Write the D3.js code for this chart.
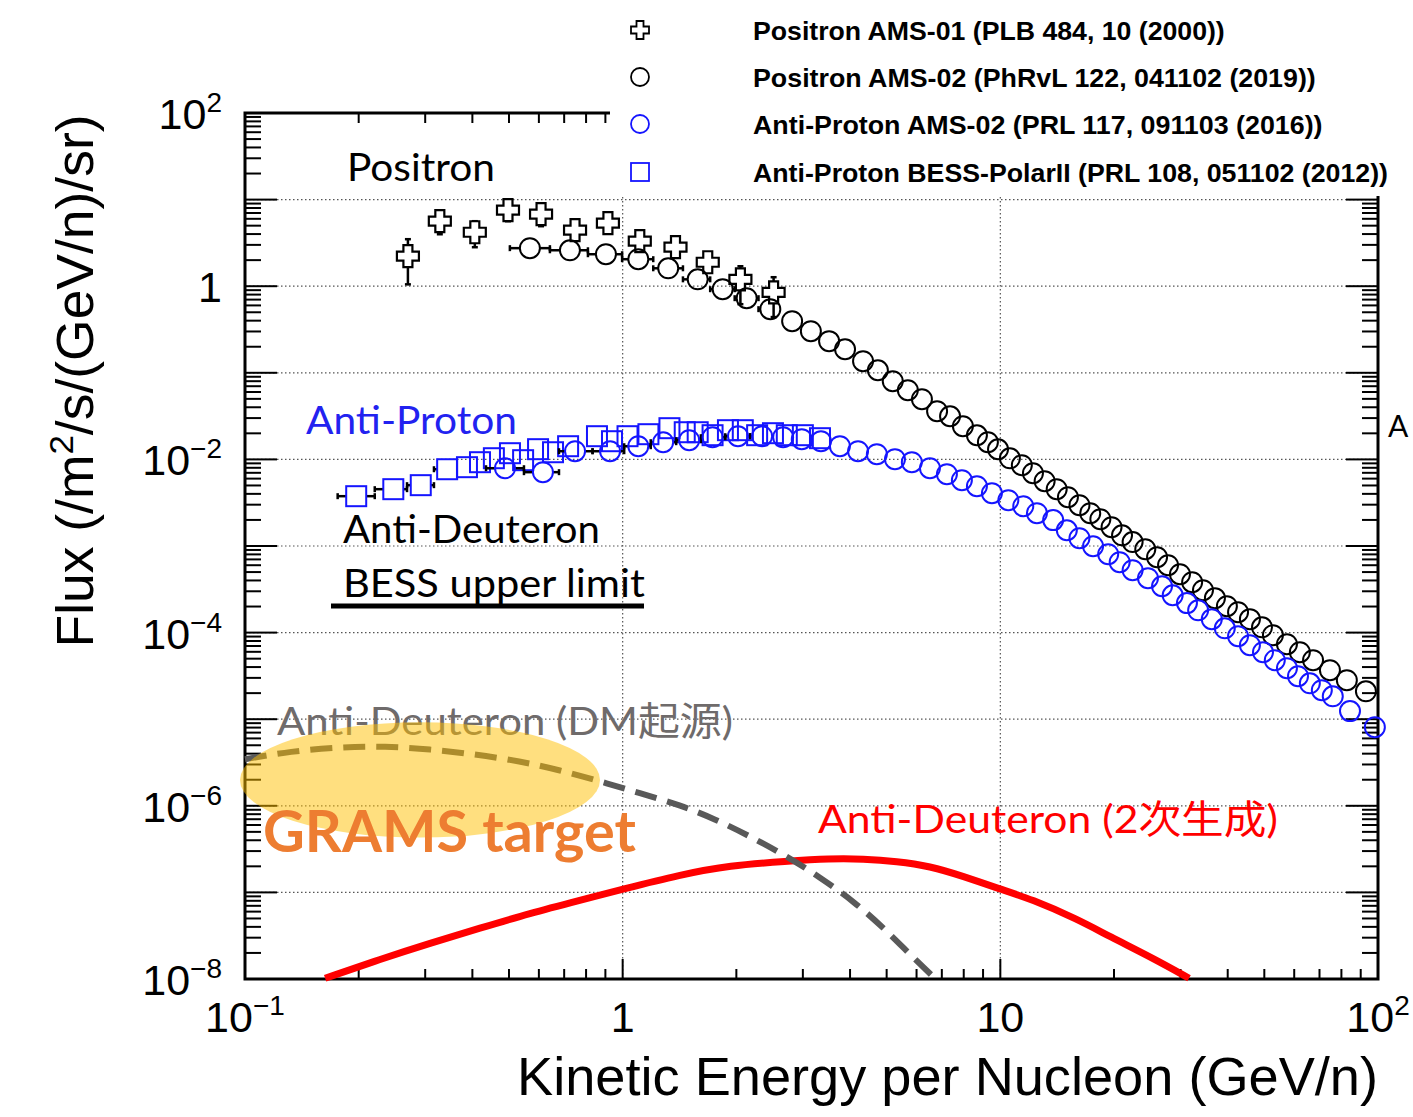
<!DOCTYPE html>
<html>
<head>
<meta charset="utf-8">
<script src="https://cdn.jsdelivr.net/npm/d3@7"></script>
<style>
  body { margin: 0; background: #fff; }
  svg { display: block; }
</style>
</head>
<body>
<script>
// ---- data (E in GeV/n, flux in /m2/s/(GeV/n)/sr) ----
const positronAms01E = [0.270, 0.328, 0.406, 0.497, 0.608, 0.748, 0.914, 1.11, 1.38, 1.68, 2.05, 2.51];
const positronAms01F = [2.22, 5.63, 4.20, 7.55, 6.78, 4.43, 5.34, 3.31, 2.82, 1.89, 1.20, 0.85];
const positronAms01Lo = [1.05, 3.98, 2.82, 5.63, 4.93, 3.49, 4.20, 2.60, 2.22, 1.49, 0.62, 0.44];
const positronAms01Hi = [3.49, 7.35, 5.63, 9.33, 8.17, 5.63, 6.78, 4.20, 3.58, 2.41, 1.70, 1.27];

const positronAms02E = [0.568, 0.725, 0.903, 1.10, 1.32, 1.58, 1.84, 2.13, 2.46, 2.81, 3.15, 3.52, 3.88,
  4.33, 4.74, 5.19, 5.69, 6.20, 6.80, 7.36, 7.96, 8.67, 9.27, 9.86, 10.6, 11.4, 12.2, 13.1, 14.1, 15.1,
  16.2, 17.3, 18.4, 19.7, 21.0, 22.4, 24.2, 26.0, 27.8, 29.9, 32.2, 34.4, 37.0, 39.8, 42.6, 45.8, 49.3,
  52.7, 57.4, 62.1, 67.3, 74.6, 82.7, 92.9];
const positronAms02F = [2.75, 2.60, 2.34, 2.05, 1.61, 1.20, 0.923, 0.727, 0.543, 0.394, 0.302, 0.232, 0.187,
  0.136, 0.107, 0.080, 0.063, 0.0496, 0.036, 0.0315, 0.0242, 0.019, 0.0158, 0.0131, 0.0103, 0.00857,
  0.00693, 0.0056, 0.00453, 0.00366, 0.00296, 0.00239, 0.00204, 0.00165, 0.00133, 0.00111, 9.18e-4,
  7.43e-4, 6.0e-4, 4.72e-4, 3.82e-4, 3.09e-4, 2.5e-4, 2.02e-4, 1.72e-4, 1.43e-4, 1.15e-4, 9.33e-5,
  7.34e-5, 5.94e-5, 4.8e-5, 3.68e-5, 2.82e-5, 2.1e-5];

const pbarAms02E = [0.488, 0.615, 0.748, 0.926, 1.10, 1.28, 1.50, 1.73, 2.02, 2.34, 2.66, 2.98, 3.35,
  3.76, 4.20, 4.71, 5.26, 5.83, 6.51, 7.22, 7.91, 8.67, 9.50, 10.5, 11.5, 12.5, 13.8, 15.0, 16.2, 17.6,
  19.3, 20.7, 22.4, 24.6, 26.8, 28.6, 31.2, 33.4, 36.3, 39.3, 42.6, 45.8, 49.6, 53.3, 57.4, 61.4, 66.0,
  71.0, 75.9, 84.3, 98.1];
const pbarAms02F = [7.91e-3, 7.12e-3, 1.243e-2, 1.243e-2, 1.42e-2, 1.58e-2, 1.666e-2, 1.805e-2, 1.853e-2,
  1.853e-2, 1.805e-2, 1.711e-2, 1.622e-2, 1.42e-2, 1.243e-2, 1.148e-2, 1.005e-2, 9.28e-3, 7.91e-3,
  6.75e-3, 5.75e-3, 4.9e-3, 4.07e-3, 3.38e-3, 2.88e-3, 2.39e-3, 1.99e-3, 1.52e-3, 1.23e-3, 9.95e-4,
  8.04e-4, 6.5e-4, 5.26e-4, 4.25e-4, 3.43e-4, 2.7e-4, 2.19e-4, 1.81e-4, 1.43e-4, 1.12e-4, 9.09e-5,
  7.15e-5, 5.94e-5, 4.8e-5, 3.88e-5, 3.14e-5, 2.6e-5, 2.16e-5, 1.84e-5, 1.24e-5, 8.08e-6];

const pbarBessE = [0.197, 0.247, 0.292, 0.343, 0.387, 0.419, 0.456, 0.503, 0.545, 0.597, 0.654, 0.717,
  0.855, 0.937, 1.03, 1.17, 1.33, 1.46, 1.58, 1.73, 1.90, 2.08, 2.27, 2.50, 2.72, 3.00, 3.33];
const pbarBessF = [3.76e-3, 4.53e-3, 5.04e-3, 7.7e-3, 8.13e-3, 9.28e-3, 1.032e-2, 1.179e-2, 9.79e-3,
  1.312e-2, 1.21e-2, 1.42e-2, 1.853e-2, 1.622e-2, 1.853e-2, 1.954e-2, 2.293e-2, 2.06e-2, 2.06e-2,
  1.903e-2, 2.174e-2, 2.174e-2, 1.903e-2, 2.007e-2, 1.903e-2, 1.903e-2, 1.757e-2];

const dbarDmE = [0.1, 0.132, 0.179, 0.235, 0.309, 0.406, 0.535, 0.682, 0.871, 1.11, 1.42, 1.76, 2.17,
  2.69, 3.33, 4.12, 4.95, 5.83, 6.71];
const dbarDmF = [3.45e-6, 4.27e-6, 4.75e-6, 4.88e-6, 4.5e-6, 3.94e-6, 3.27e-6, 2.58e-6, 1.92e-6, 1.4e-6,
  1.02e-6, 7.0e-7, 4.46e-7, 2.69e-7, 1.5e-7, 7.7e-8, 3.76e-8, 1.83e-8, 1.02e-8];

const dbarSecE = [0.163, 0.228, 0.309, 0.419, 0.568, 0.771, 1.0, 1.42, 1.92, 2.72, 3.54, 4.33, 5.32,
  6.51, 7.96, 9.98, 12.1, 16.0, 19.4, 25.7, 31.6];
const dbarSecF = [1.02e-8, 1.69e-8, 2.59e-8, 3.86e-8, 5.75e-8, 8.13e-8, 1.09e-7, 1.6e-7, 2.05e-7,
  2.29e-7, 2.46e-7, 2.44e-7, 2.29e-7, 2.01e-7, 1.54e-7, 1.09e-7, 8.35e-8, 4.9e-8, 3.12e-8, 1.69e-8, 1.02e-8];

// GRAMS target region (energy range, flux range)
const gramsTargetE = [0.097, 0.871];
const gramsTargetF = [4.3e-7, 9.2e-6];

// tick labels
const xTickValues = [0.1, 1, 10, 100];
const xTickBase = ["10", "1", "10", "10"];
const xTickExp = ["\u22121", "", "", "2"];
const yTickValues = [1e2, 1, 1e-2, 1e-4, 1e-6, 1e-8];
const yTickBase = ["10", "1", "10", "10", "10", "10"];
const yTickExp = ["2", "", "\u22122", "\u22124", "\u22126", "\u22128"];

const legendLabels = [
  "Positron AMS-01 (PLB 484, 10 (2000))",
  "Positron AMS-02 (PhRvL 122, 041102 (2019))",
  "Anti-Proton AMS-02 (PRL 117, 091103 (2016))",
  "Anti-Proton BESS-PolarII (PRL 108, 051102 (2012))"
];

// ---- layout ----
const W = 1413, H = 1117;
const plotL = 245, plotR = 1378, plotT = 113, plotB = 979;
const axisFont = "'Liberation Sans', Arial, Helvetica, sans-serif";
const annFont = "Lato, 'Noto Sans CJK JP', sans-serif";
const blue = "#1515ff";
const mr = 10; // marker radius

const svg = d3.select("body").append("svg").attr("width", W).attr("height", H);

const x = d3.scaleLog().domain([0.1, 100]).range([plotL, plotR]);
const y = d3.scaleLog().domain([1e-8, 1e2]).range([plotB, plotT]);

const isDecade = v => Math.abs(Math.log10(v) - Math.round(Math.log10(v))) < 1e-9;

// tick positions, 1..9 per decade
const xTicks = [];
for (let e = -1; e < 2; e++) for (let m = 1; m < 10; m++) xTicks.push(m * Math.pow(10, e));
xTicks.push(100);
const yTicks = [];
for (let e = -8; e < 2; e++) for (let m = 1; m < 10; m++) yTicks.push(m * Math.pow(10, e));
yTicks.push(100);

// grid
const grid = svg.append("g").attr("stroke", "#555").attr("stroke-width", 1.2)
  .attr("stroke-dasharray", "1.5,2.5");
yTicks.filter(v => isDecade(v) && v > 1e-8 && v < 1e2).forEach(v => {
  grid.append("line").attr("x1", plotL).attr("x2", plotR).attr("y1", y(v)).attr("y2", y(v));
});
[1, 10].forEach(v => {
  grid.append("line").attr("x1", x(v)).attr("x2", x(v)).attr("y1", plotT).attr("y2", plotB);
});

// frame and ticks
const axes = svg.append("g").attr("stroke", "#000").attr("fill", "none");
axes.append("rect").attr("x", plotL).attr("y", plotT).attr("width", plotR - plotL).attr("height", plotB - plotT)
  .attr("stroke-width", 3);
yTicks.forEach(v => {
  const len = isDecade(v) ? 32 : 16;
  axes.append("line").attr("x1", plotL).attr("x2", plotL + len).attr("y1", y(v)).attr("y2", y(v)).attr("stroke-width", 2);
  axes.append("line").attr("x1", plotR).attr("x2", plotR - len).attr("y1", y(v)).attr("y2", y(v)).attr("stroke-width", 2);
});
xTicks.forEach(v => {
  const len = isDecade(v) ? 20 : 10;
  axes.append("line").attr("x1", x(v)).attr("x2", x(v)).attr("y1", plotB).attr("y2", plotB - len).attr("stroke-width", 2);
  axes.append("line").attr("x1", x(v)).attr("x2", x(v)).attr("y1", plotT).attr("y2", plotT + len).attr("stroke-width", 2);
});

// curves
const curve = d3.line().x(d => x(d[0])).y(d => y(d[1])).curve(d3.curveBasis);
svg.append("path")
  .attr("d", curve(dbarSecE.map((e, i) => [e, dbarSecF[i]])))
  .attr("fill", "none").attr("stroke", "#ff0000").attr("stroke-width", 7);
svg.append("path")
  .attr("d", curve(dbarDmE.map((e, i) => [e, dbarDmF[i]])))
  .attr("fill", "none").attr("stroke", "#595959").attr("stroke-width", 6)
  .attr("stroke-dasharray", "22,11");

// horizontal error bars out to the bin edges, drawn outside the marker
function xErrors(E, F, half, n) {
  const g = svg.append("g").attr("stroke", "#000").attr("stroke-width", 2.5);
  E.slice(0, n).forEach((e, i) => {
    const lo = i > 0 ? Math.sqrt(E[i - 1] * e) : e / Math.sqrt(E[1] / e);
    const hi = i < E.length - 1 ? Math.sqrt(e * E[i + 1]) : e * Math.sqrt(e / E[i - 1]);
    const cx = x(e), cy = y(F[i]);
    if (x(hi) - cx > half + 1) {
      g.append("line").attr("x1", cx + half).attr("x2", x(hi)).attr("y1", cy).attr("y2", cy);
      g.append("line").attr("x1", x(hi)).attr("x2", x(hi)).attr("y1", cy - 3).attr("y2", cy + 3);
    }
    if (cx - x(lo) > half + 1) {
      g.append("line").attr("x1", cx - half).attr("x2", x(lo)).attr("y1", cy).attr("y2", cy);
      g.append("line").attr("x1", x(lo)).attr("x2", x(lo)).attr("y1", cy - 3).attr("y2", cy + 3);
    }
  });
}

const crossPath = (s, a) => `M${-a},${-s}H${a}V${-a}H${s}V${a}H${a}V${s}H${-a}V${a}H${-s}V${-a}H${-a}Z`;

// positron AMS-01: open crosses with vertical errors
const errG = svg.append("g").attr("stroke", "#000").attr("stroke-width", 2.5);
positronAms01E.forEach((e, i) => {
  const cx = x(e), cy = y(positronAms01F[i]);
  const yh = y(positronAms01Hi[i]), yl = y(positronAms01Lo[i]);
  if (cy - yh > 11) errG.append("line").attr("x1", cx).attr("x2", cx).attr("y1", cy - 11).attr("y2", yh);
  if (yl - cy > 11) errG.append("line").attr("x1", cx).attr("x2", cx).attr("y1", cy + 11).attr("y2", yl);
  errG.append("line").attr("x1", cx - 3).attr("x2", cx + 3).attr("y1", yh).attr("y2", yh);
  errG.append("line").attr("x1", cx - 3).attr("x2", cx + 3).attr("y1", yl).attr("y2", yl);
});
svg.append("g").selectAll("path").data(positronAms01E).join("path")
  .attr("d", crossPath(11, 4.5))
  .attr("transform", (d, i) => `translate(${x(d)},${y(positronAms01F[i])})`)
  .attr("fill", "#fff").attr("stroke", "#000").attr("stroke-width", 2.2);

// positron AMS-02
xErrors(positronAms02E, positronAms02F, mr, 16);
svg.append("g").selectAll("circle").data(positronAms02E).join("circle")
  .attr("cx", d => x(d)).attr("cy", (d, i) => y(positronAms02F[i])).attr("r", mr)
  .attr("fill", "none").attr("stroke", "#000").attr("stroke-width", 2);

// anti-proton BESS-PolarII
xErrors(pbarBessE, pbarBessF, mr, 4);
svg.append("g").selectAll("rect").data(pbarBessE).join("rect")
  .attr("x", d => x(d) - mr).attr("y", (d, i) => y(pbarBessF[i]) - mr)
  .attr("width", 2 * mr).attr("height", 2 * mr)
  .attr("fill", "none").attr("stroke", blue).attr("stroke-width", 2);

// anti-proton AMS-02
xErrors(pbarAms02E, pbarAms02F, mr, 14);
svg.append("g").selectAll("circle").data(pbarAms02E).join("circle")
  .attr("cx", d => x(d)).attr("cy", (d, i) => y(pbarAms02F[i])).attr("r", mr)
  .attr("fill", "none").attr("stroke", blue).attr("stroke-width", 2);

// text helper: places text and squeezes it horizontally to a target width
function label(parent, txt, px, py, o) {
  const g = parent.append("g");
  const t = g.append("text").attr("x", 0).attr("y", 0)
    .attr("text-anchor", o.anchor || "start")
    .style("font-family", o.font || annFont)
    .style("font-size", o.size + "px")
    .style("font-weight", o.weight || 400)
    .attr("fill", o.color || "#000")
    .text(txt);
  let k = 1;
  if (o.width && txt) k = o.width / t.node().getComputedTextLength();
  g.attr("transform", `translate(${px},${py})${o.rotate ? " rotate(" + o.rotate + ")" : ""} scale(${k},1)`);
  return t;
}

// annotations under the target ellipse
label(svg, "Anti-Deuteron (DM起源)", 277, 735, { size: 39, color: "#6f6b6b", width: 456 });

svg.append("ellipse")
  .attr("cx", (x(gramsTargetE[0]) + x(gramsTargetE[1])) / 2)
  .attr("cy", (y(gramsTargetF[0]) + y(gramsTargetF[1])) / 2)
  .attr("rx", (x(gramsTargetE[1]) - x(gramsTargetE[0])) / 2)
  .attr("ry", (y(gramsTargetF[0]) - y(gramsTargetF[1])) / 2)
  .attr("fill", "#FFC000").attr("opacity", 0.5);

label(svg, "GRAMS target", 263, 852, { size: 57, weight: 700, color: "#ED7D31", width: 373 });
label(svg, "Positron", 347, 181, { size: 38, width: 148 });
label(svg, "Anti-Proton", 306, 434, { size: 38, color: "#2222f0", width: 211 });
label(svg, "Anti-Deuteron", 343, 543, { size: 38, width: 257 });
label(svg, "BESS upper limit", 343, 597, { size: 38, width: 302 });
svg.append("line").attr("x1", 331).attr("x2", 644).attr("y1", 606).attr("y2", 606)
  .attr("stroke", "#000").attr("stroke-width", 5);
label(svg, "Anti-Deuteron (2次生成)", 818, 833, { size: 39, color: "#ff0000", width: 460 });
label(svg, "A", 1388, 437, { size: 30 });

// legend box
svg.append("rect").attr("x", 610).attr("y", 0).attr("width", W - 610).attr("height", 196).attr("fill", "#fff");
const legendY = [30, 77, 124, 172];
const legendWidths = [472, 563, 570, 635];
const lg = svg.append("g");
lg.append("path").attr("d", crossPath(9, 3.5)).attr("transform", `translate(640,${legendY[0]})`)
  .attr("fill", "none").attr("stroke", "#000").attr("stroke-width", 1.8);
lg.append("circle").attr("cx", 640).attr("cy", legendY[1]).attr("r", 9)
  .attr("fill", "none").attr("stroke", "#000").attr("stroke-width", 1.8);
lg.append("circle").attr("cx", 640).attr("cy", legendY[2]).attr("r", 9)
  .attr("fill", "none").attr("stroke", blue).attr("stroke-width", 1.8);
lg.append("rect").attr("x", 631).attr("y", legendY[3] - 9).attr("width", 18).attr("height", 18)
  .attr("fill", "none").attr("stroke", blue).attr("stroke-width", 1.8);
legendLabels.forEach((s, i) => {
  label(lg, s, 753, legendY[i] + 10, { size: 26, weight: 700, font: axisFont, width: legendWidths[i] });
});

// tick labels
const tl = svg.append("g").style("font-family", axisFont).attr("fill", "#000");
yTickValues.forEach((v, i) => {
  const t = tl.append("text").attr("x", 222).attr("y", y(v) + 16).attr("text-anchor", "end")
    .style("font-size", "43px").text(yTickBase[i]);
  if (yTickExp[i]) t.append("tspan").attr("dy", -17).style("font-size", "28px").text(yTickExp[i]);
});
xTickValues.forEach((v, i) => {
  const t = tl.append("text").attr("x", x(v)).attr("y", 1032).attr("text-anchor", "middle")
    .style("font-size", "43px").text(xTickBase[i]);
  if (xTickExp[i]) t.append("tspan").attr("dy", -17).style("font-size", "28px").text(xTickExp[i]);
});

// axis titles
label(svg, "Kinetic Energy per Nucleon (GeV/n)", 1378, 1095,
  { size: 54, font: axisFont, anchor: "end", width: 861 });
const yTitle = label(svg, "", 93, 381, { size: 52, font: axisFont, anchor: "middle", rotate: -90 });
yTitle.append("tspan").text("Flux (/m");
yTitle.append("tspan").attr("dy", -20).style("font-size", "34px").text("2");
yTitle.append("tspan").attr("dy", 20).text("/s/(GeV/n)/sr)");
{
  const k = 533 / yTitle.node().getComputedTextLength();
  d3.select(yTitle.node().parentNode).attr("transform", `translate(93,381) rotate(-90) scale(${k},1)`);
}
</script>
</body>
</html>
